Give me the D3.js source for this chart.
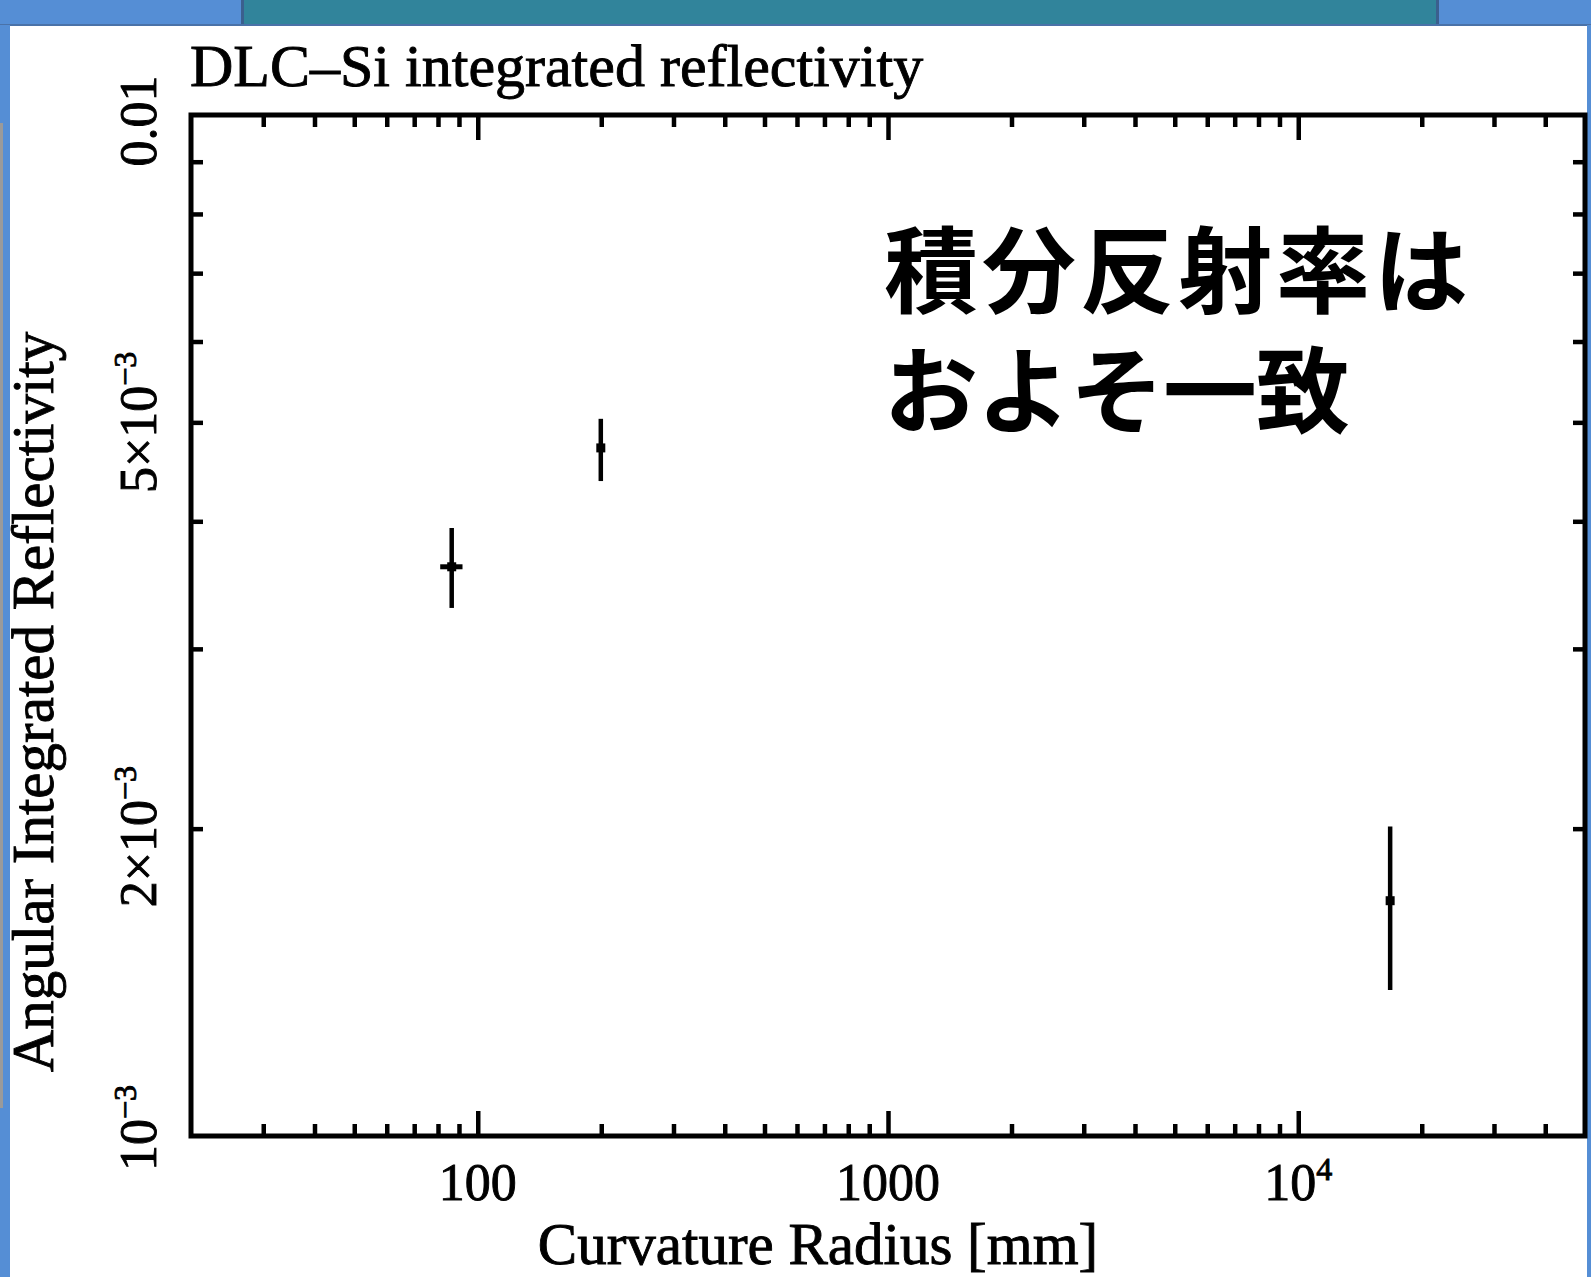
<!DOCTYPE html>
<html>
<head>
<meta charset="utf-8">
<script src="https://cdn.jsdelivr.net/npm/d3@7"></script>
<style>
  html, body { margin: 0; padding: 0; background: #fff; }
  svg { display: block; }
  .serif { font-family: "Liberation Serif", "DejaVu Serif", serif; fill: #000; stroke: #000; stroke-width: 0.9; }
</style>
</head>
<body>
<svg id="chart" width="1591" height="1277"></svg>
<script>
// Measured integrated reflectivity of DLC–Si versus curvature radius
const radius       = [86.4, 199.5, 16750];        // mm
const reflectivity = [3.61e-3, 4.72e-3, 1.70e-3];
const errUp        = [0.33e-3, 0.32e-3, 0.31e-3];
const errDown      = [0.32e-3, 0.34e-3, 0.31e-3];
const radiusErr    = [5.4, 0, 0];                 // mm

const xDomain = [20, 50000];
const yDomain = [1e-3, 1e-2];

const xMajorTicks = [100, 1000, 10000];
const xTickLabels = [["100", ""], ["1000", ""], ["10", "4"]];
const yLabelTicks = [1e-2, 5e-3, 2e-3, 1e-3];
const yTickLabels = [["0.01", ""], ["5×10", "−3"], ["2×10", "−3"], ["10", "−3"]];

const titleText  = "DLC–Si integrated reflectivity";
const xTitleText = "Curvature Radius [mm]";
const yTitleText = "Angular Integrated Reflectivity";
const noteLines  = ["積分反射率は", "およそ一致"];

const W = 1591, H = 1277;
const plot = { left: 191, right: 1585, top: 115, bottom: 1136 };

const svg = d3.select("#chart");

// slide frame decoration
const lightBlue = "#558ed5", teal = "#31849b", edge = "#3b5f8e";
svg.append("rect").attr("x", 0).attr("y", 0).attr("width", W).attr("height", 25).attr("fill", lightBlue);
svg.append("rect").attr("x", 241).attr("y", 0).attr("width", 1198).attr("height", 25).attr("fill", teal);
svg.append("rect").attr("x", 241).attr("y", 0).attr("width", 3).attr("height", 25).attr("fill", edge);
svg.append("rect").attr("x", 1436).attr("y", 0).attr("width", 3).attr("height", 25).attr("fill", edge);
svg.append("rect").attr("x", 0).attr("y", 24).attr("width", W).attr("height", 2).attr("fill", "#4a72a8");
svg.append("rect").attr("x", 0).attr("y", 25).attr("width", 10).attr("height", H - 25).attr("fill", lightBlue);
svg.append("rect").attr("x", 0).attr("y", 123).attr("width", 3).attr("height", 985).attr("fill", "#9a9a9a");
svg.append("rect").attr("x", 1587).attr("y", 25).attr("width", 4).attr("height", H - 25).attr("fill", lightBlue);

const x = d3.scaleLog().domain(xDomain).range([plot.left, plot.right]);
const y = d3.scaleLog().domain(yDomain).range([plot.bottom, plot.top]);

const g = svg.append("g");

// inward ticks on all four sides
const minorX = x.ticks().filter(v => !xMajorTicks.includes(v) && v > xDomain[0] && v < xDomain[1]);
const minorY = y.ticks().filter(v => v > yDomain[0] && v < yDomain[1]);

function axisGroup(axis) {
  const a = g.append("g").call(axis);
  a.select(".domain").remove();
  a.selectAll("line").attr("stroke", "#000").attr("stroke-width", 4.5);
  a.selectAll("text").remove();
  return a;
}
const minorLen = 12, majorLen = 25;
axisGroup(d3.axisBottom(x).tickValues(minorX).tickSize(-minorLen)).attr("transform", `translate(0,${plot.bottom})`);
axisGroup(d3.axisBottom(x).tickValues(xMajorTicks).tickSize(-majorLen)).attr("transform", `translate(0,${plot.bottom})`);
axisGroup(d3.axisTop(x).tickValues(minorX).tickSize(-minorLen)).attr("transform", `translate(0,${plot.top})`);
axisGroup(d3.axisTop(x).tickValues(xMajorTicks).tickSize(-majorLen)).attr("transform", `translate(0,${plot.top})`);
axisGroup(d3.axisLeft(y).tickValues(minorY).tickSize(-minorLen)).attr("transform", `translate(${plot.left},0)`);
axisGroup(d3.axisRight(y).tickValues(minorY).tickSize(-minorLen)).attr("transform", `translate(${plot.right},0)`);

// plot frame
g.append("rect")
  .attr("x", plot.left).attr("y", plot.top)
  .attr("width", plot.right - plot.left).attr("height", plot.bottom - plot.top)
  .attr("fill", "none").attr("stroke", "#000").attr("stroke-width", 5);

// x tick labels
const xl = g.append("g").attr("class", "serif").attr("font-size", 52).attr("text-anchor", "middle");
xMajorTicks.forEach((v, i) => {
  const t = xl.append("text").attr("x", x(v)).attr("y", 1200);
  t.append("tspan").text(xTickLabels[i][0]);
  if (xTickLabels[i][1]) {
    t.append("tspan").attr("font-size", 32).attr("dy", -20).text(xTickLabels[i][1]);
  }
});

// y tick labels (rotated)
const ylg = g.append("g").attr("class", "serif").attr("font-size", 52).attr("text-anchor", "middle");
const yLabelShift = [6, 0, 8, -8];
yLabelTicks.forEach((v, i) => {
  const cy = y(v) + yLabelShift[i];
  const t = ylg.append("text").attr("transform", `translate(156,${cy}) rotate(-90)`);
  t.append("tspan").text(yTickLabels[i][0]);
  if (yTickLabels[i][1]) {
    t.append("tspan").attr("font-size", 32).attr("dy", -20).text(yTickLabels[i][1]);
  }
});

// titles
g.append("text").attr("class", "serif").attr("font-size", 60)
  .attr("x", 190).attr("y", 86).text(titleText);
g.append("text").attr("class", "serif").attr("font-size", 59).attr("text-anchor", "middle")
  .attr("x", 818).attr("y", 1264).text(xTitleText);
g.append("text").attr("class", "serif").attr("font-size", 59).attr("text-anchor", "middle")
  .attr("transform", `translate(53,702) rotate(-90)`).text(yTitleText);

// annotation, one text element per line
const noteSpacing = [4, -1];
noteLines.forEach((line, i) => {
  g.append("text")
    .attr("font-family", "'Noto Sans CJK JP', 'Noto Sans CJK SC', sans-serif")
    .attr("font-weight", 700).attr("font-size", 94)
    .attr("letter-spacing", noteSpacing[i]).attr("fill", "#000")
    .attr("x", 884).attr("y", 306 + i * 120).text(line);
});

// data points with error bars
const pts = radius.map((r, i) => ({ r, v: reflectivity[i], up: errUp[i], dn: errDown[i], rx: radiusErr[i] }));
const pg = g.append("g");
pg.selectAll("line.ey").data(pts).join("line")
  .attr("class", "ey")
  .attr("x1", d => x(d.r)).attr("x2", d => x(d.r))
  .attr("y1", d => y(d.v + d.up)).attr("y2", d => y(d.v - d.dn))
  .attr("stroke", "#000").attr("stroke-width", 4.5);
pg.selectAll("line.ex").data(pts.filter(d => d.rx > 0)).join("line")
  .attr("class", "ex")
  .attr("x1", d => x(d.r - d.rx)).attr("x2", d => x(d.r + d.rx))
  .attr("y1", d => y(d.v)).attr("y2", d => y(d.v))
  .attr("stroke", "#000").attr("stroke-width", 5);
pg.selectAll("rect.pt").data(pts).join("rect")
  .attr("class", "pt")
  .attr("x", d => x(d.r) - 4.5).attr("y", d => y(d.v) - 4.5)
  .attr("width", 9).attr("height", 9).attr("fill", "#000");
</script>
</body>
</html>
